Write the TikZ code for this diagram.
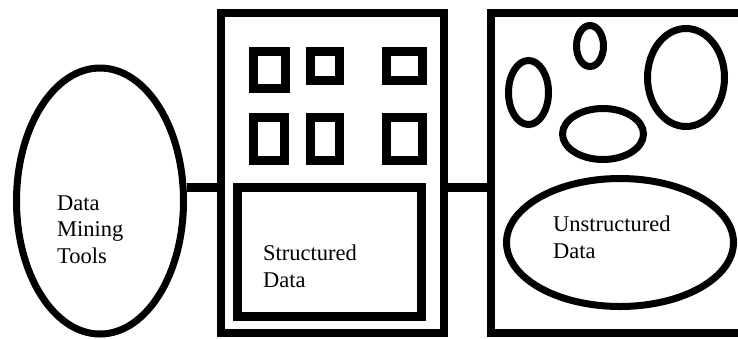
\documentclass[tikz,border=0pt]{standalone}
\usepackage{fontspec}
\setmainfont{Liberation Serif}
\usetikzlibrary{shapes.geometric}
\begin{document}
\begin{tikzpicture}[x=1pt,y=-1pt,
  bigbox/.style={draw=black,line width=8pt,rectangle,inner sep=0pt,fill=none},
  smallbox/.style={draw=black,line width=9pt,rectangle,inner sep=0pt},
  oval/.style={draw=black,line width=7pt,ellipse,inner sep=0pt},
  conn/.style={draw=black,line width=9pt},
  lbl/.style={font=\fontsize{22.5}{26.5}\selectfont,align=left,inner sep=0pt,anchor=base west}
]
\useasboundingbox (0,0) rectangle (738,338);
% left ellipse
\node[oval,minimum width=167pt,minimum height=266pt] (dmt) at (100,201) {};
% middle box
\node[bigbox,minimum width=223pt,minimum height=320pt] (mid) at (332.5,173) {};
% right box
\node[bigbox,minimum width=255pt,minimum height=320pt] (rgt) at (618.5,173) {};
% structured data box
\node[smallbox,minimum width=184pt,minimum height=129pt] (sd) at (329.5,252) {};
% small squares
\node[smallbox,minimum width=32pt,minimum height=37pt] (s1) at (269.5,70) {};
\node[smallbox,minimum width=29pt,minimum height=29pt] (s2) at (325,66) {};
\node[smallbox,minimum width=36pt,minimum height=29pt] (s3) at (404.5,66) {};
\node[smallbox,minimum width=31pt,minimum height=43pt] (s4) at (269,139) {};
\node[smallbox,minimum width=29pt,minimum height=43pt] (s5) at (325,139) {};
\node[smallbox,minimum width=36pt,minimum height=43pt] (s6) at (404.5,139) {};
% ellipses in right box
\node[oval,minimum width=40pt,minimum height=64pt] (e1) at (528.5,92.5) {};
\node[oval,minimum width=27pt,minimum height=41pt] (e2) at (590,46) {};
\node[oval,minimum width=81pt,minimum height=51pt] (e3) at (603,134) {};
\node[oval,minimum width=77pt,minimum height=98pt] (e4) at (686,77.5) {};
\node[oval,minimum width=227pt,minimum height=128pt] (ud) at (620,242.5) {};
% connectors
\coordinate (c1) at (dmt.9.2);
\draw[conn] (c1) -- (c1 -| mid.west);
\coordinate (c2) at (mid.east |- c1);
\draw[conn] (c2) -- (c2 -| rgt.west);
% labels (base anchor = last line's baseline)
\node[lbl] (t1) at (57,263) {Data\\Mining\\Tools};
\node[lbl] (t2) at (263,287) {Structured\\Data};
\node[lbl] (t3) at (553,258) {Unstructured\\Data};
\end{tikzpicture}
\end{document}
